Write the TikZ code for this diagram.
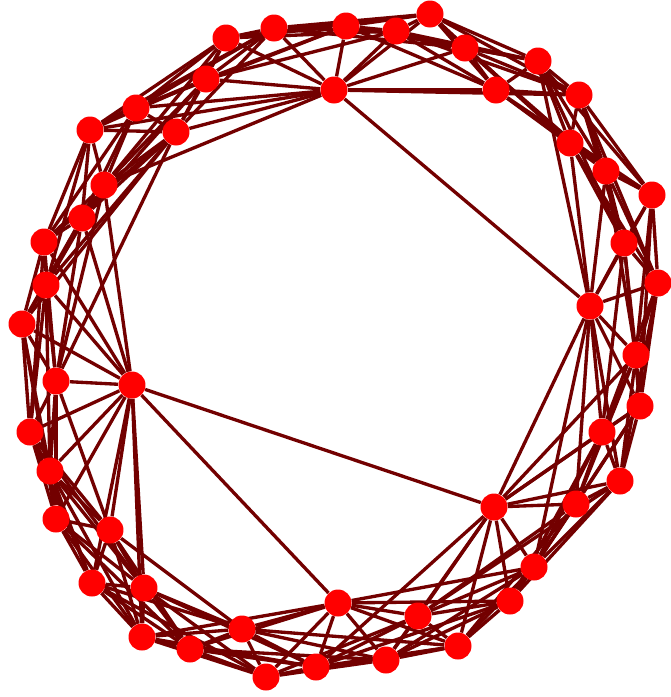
\documentclass[tikz,border=0pt]{standalone}
\usetikzlibrary{backgrounds}
\definecolor{edgecol}{RGB}{115,0,0}
\begin{document}
\begin{tikzpicture}[x=0.02cm,y=-0.02cm,
  vtx/.style={circle,fill=red,draw=none,minimum size=0.54cm,inner sep=0pt},
  edge/.style={draw=edgecol,line width=1.9pt}]
\useasboundingbox (0,0) rectangle (670,697);
\foreach \px/\py [count=\k from 0] in {
 90/130, 136/108, 206/79, 226/38, 274/28, 334/90, 346/26, 396/31, 430/14, 465/48,
 496/90, 538/61, 579/95, 570/143, 606/171, 652/195, 624/243, 658/283, 590/306, 636/355,
 640/406, 602/432, 620/481, 576/504, 494/507, 534/567, 510/601, 418/616, 458/646, 386/660,
 338/603, 316/667, 266/677, 242/629, 190/649, 142/637, 144/588, 92/583, 110/530, 56/519,
 50/471, 30/432, 132/385, 56/381, 22/324, 46/285, 44/242, 82/218, 104/185, 176/132}
 \node[vtx] (n\k) at (\px,\py) {};
\begin{pgfonlayer}{background}
\foreach \i in {0,...,49}{
  \foreach \d in {1,2,3,4,5}{
    \pgfmathtruncatemacro\j{mod(\i+\d,50)}
    \draw[edge] (n\i) -- (n\j);
  }
}
\foreach \a/\b in {5/18, 42/24, 42/30, 49/43, 5/12, 42/48, 42/36, 42/35,
  5/49, 5/48, 24/18, 24/31, 18/11, 18/25}
  \draw[edge] (n\a) -- (n\b);
\end{pgfonlayer}
\end{tikzpicture}
\end{document}
